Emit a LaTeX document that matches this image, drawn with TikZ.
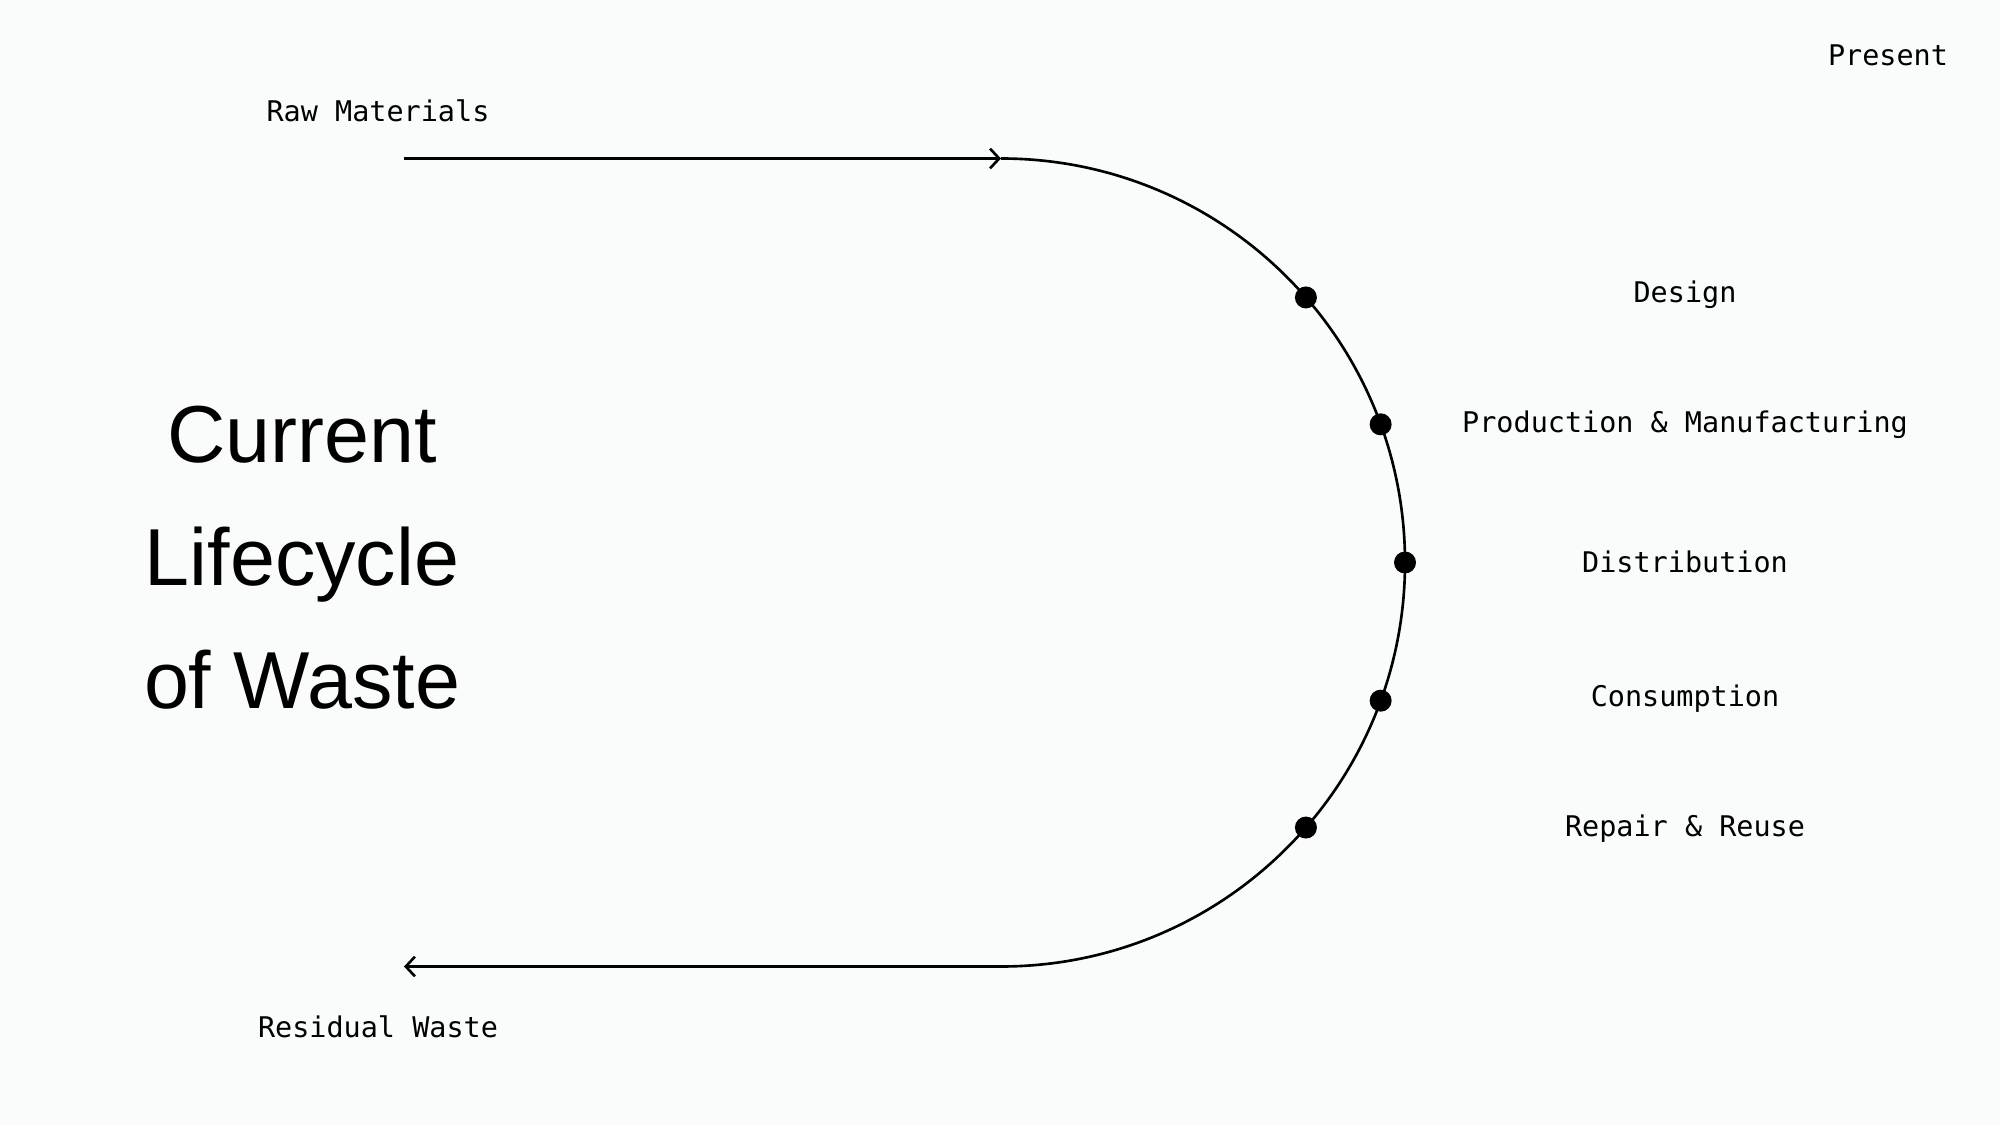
\documentclass[tikz,border=0pt]{standalone}
\usepackage{fontspec}
\setmainfont{Liberation Sans}
\newfontfamily\stagefont{DejaVu Sans Mono}
\usepackage{tikz}
\usetikzlibrary{arrows.meta,
                calc,
                positioning}
\definecolor{paper}{RGB}{250,252,252}

\begin{document}
\begin{tikzpicture}[
		line width=0.75pt,
		stagelabel/.style={font=\stagefont\fontsize{8.1}{10}\selectfont, inner sep=0pt},
		stagedot/.style={circle, fill=black, inner sep=0pt, minimum size=0.22cm},
		flow/.style={-{Straight Barb[length=2.6pt,width=5.6pt]}}
	]
		\fill[paper] (0,0) rectangle (20,11.25);
		\useasboundingbox (0,0) rectangle (20,11.25);
		\node [font=\fontsize{23}{35}\selectfont, align=center] (title) at (3.02,5.67) {Current\\Lifecycle\\of Waste};
		\node [stagelabel] (present) at (18.88,10.70) {Present};
		\node [stagelabel] (raw) at (3.78,10.14) {Raw Materials};
		\node [stagelabel] (residual) at (3.78,0.98) {Residual Waste};
		\coordinate (rawstart) at (4.04,9.665);
		\coordinate (centre) at (10.01,5.625);
		\coordinate (arctop) at (10.01,9.665);
		\coordinate (arcbottom) at (10.01,1.585);
		\coordinate (wasteend) at (4.04,1.585);
		\draw [flow] (rawstart) -- (arctop);
		\draw (arctop) arc [start angle=90, end angle=-90, radius=4.04];
		\draw [flow] (arcbottom) -- (wasteend);
		\foreach \ang/\name in {41/design, 20/production, 0/distribution, -20/consumption, -41/repair}
			\node [stagedot] (\name dot) at ($(centre)+(\ang:4.04)$) {};
		\node [stagelabel] (design) at (16.85,8.30) {Design};
		\node [stagelabel] (production) at (16.85,7.00) {Production \& Manufacturing};
		\node [stagelabel] (distribution) at (16.85,5.63) {Distribution};
		\node [stagelabel] (consumption) at (16.85,4.26) {Consumption};
		\node [stagelabel] (repair) at (16.85,2.96) {Repair \& Reuse};
	\end{tikzpicture}
\end{document}
